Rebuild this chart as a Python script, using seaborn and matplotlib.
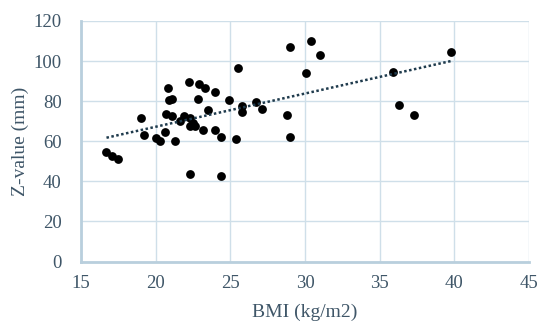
import matplotlib
matplotlib.use("Agg")
import matplotlib.pyplot as plt
import seaborn as sns
import pandas as pd

bmi = [16.7, 17.1, 17.5, 19.0, 19.2, 20.0, 20.3, 20.6, 21.3, 20.8,
       20.9, 21.1, 20.7, 21.1, 21.6, 21.9, 22.3, 22.5, 22.3, 22.6,
       22.2, 22.9, 23.3, 24.0, 22.8, 23.5, 23.2, 24.0, 24.4, 25.4,
       24.9, 25.5, 25.8, 25.8, 26.7, 27.1, 22.3, 24.4, 28.8, 29.0,
       29.0, 30.4, 31.0, 30.1, 35.9, 36.3, 37.3, 39.8]
z_value = [54.4, 52.9, 51.1, 71.6, 63.2, 61.6, 59.9, 64.6, 60.2, 86.6,
           80.4, 81.1, 73.7, 72.4, 70.2, 72.4, 71.6, 69.1, 67.4, 67.8,
           89.6, 88.4, 86.6, 84.6, 81.3, 75.4, 65.7, 65.7, 62.1, 61.2,
           80.4, 96.6, 77.7, 74.4, 79.4, 76.2, 43.9, 42.9, 73.3, 62.1,
           106.9, 109.9, 102.8, 93.8, 94.4, 78.3, 73.3, 104.6]

x_ticks = [15, 20, 25, 30, 35, 40, 45]
y_ticks = [0, 20, 40, 60, 80, 100, 120]

df = pd.DataFrame({"BMI": bmi, "Z": z_value})

sns.set_style("white")
plt.rcParams["font.family"] = ["Liberation Serif", "DejaVu Serif"]

text_color = "#3f5668"
grid_color = "#cfdfe9"
spine_color = "#b9cfdd"

fig = plt.figure(figsize=(5.48, 3.27), dpi=100)
ax = fig.add_axes([0.148, 0.2, 0.817, 0.736])

ax.set_axisbelow(True)
ax.grid(True, color=grid_color, linewidth=1.0)

sns.scatterplot(data=df, x="BMI", y="Z", ax=ax, color="black", s=40,
                edgecolor="black", linewidth=0, zorder=3)
sns.regplot(data=df, x="BMI", y="Z", ax=ax, scatter=False, ci=None,
            line_kws={"color": "#1f3b4d", "linestyle": (0, (1, 1)),
                      "linewidth": 1.8, "zorder": 4})

ax.set_xlim(15, 45)
ax.set_ylim(0, 120)
ax.set_xticks(x_ticks)
ax.set_yticks(y_ticks)

for side in ["top", "right"]:
    ax.spines[side].set_visible(False)
for side in ["left", "bottom"]:
    ax.spines[side].set_color(spine_color)
    ax.spines[side].set_linewidth(2)

ax.tick_params(axis="both", length=0, labelsize=13.5, labelcolor=text_color)
ax.tick_params(axis="y", pad=14)
ax.tick_params(axis="x", pad=10)

ax.set_xlabel("BMI (kg/m2)", fontsize=14, color=text_color, labelpad=8)
ax.set_ylabel("Z-value (mm)", fontsize=14, color=text_color, labelpad=3)

fig.savefig("out.png", dpi=100)
